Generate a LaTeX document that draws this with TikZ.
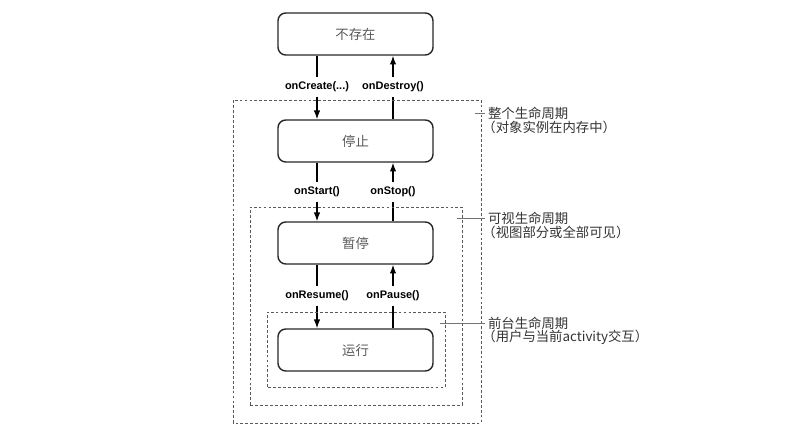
\documentclass[tikz,border=0pt]{standalone}
\usepackage{fontspec}
\setmainfont{Liberation Sans}
\newfontfamily\cjk{Noto Sans CJK SC}
\usetikzlibrary{arrows.meta}
\tikzset{
 state/.style={draw=black!85, line width=1pt, rounded corners=5.5pt, minimum width=3.875cm,
   minimum height=1.05cm, text=black!65, font=\cjk\fontsize{9.5}{11}\selectfont},
 call/.style={font=\bfseries\fontsize{7.8}{9}\selectfont, inner sep=3pt},
 link/.style={line width=0.8pt},
 arr/.style={line width=0.8pt, -{Latex[length=2.2mm,width=1.6mm]}},
 period/.style={draw=black!65, line width=0.5pt, dash pattern=on 2pt off 1.5pt},
 leader/.style={draw=black!55, line width=0.5pt},
 note/.style={anchor=west, inner sep=2pt, text=black!80, font=\cjk\fontsize{9.5}{11}\selectfont}
}
\begin{document}
\begin{tikzpicture}
\useasboundingbox (0,0) rectangle (19.675,10.825);
% states
\node[state] (nonexist) at (8.8875,9.975) {不存在};
\node[state] (stopped) at (8.8875,7.3) {停止};
\node[state] (paused) at (8.8875,4.75) {暂停};
\node[state] (running) at (8.8875,2.075) {运行};
% callbacks
\node[call] (create) at (7.925,8.65) {onCreate(...)};
\node[call] (destroy) at (9.825,8.65) {onDestroy()};
\node[call] (start) at (7.925,6.025) {onStart()};
\node[call] (stop) at (9.825,6.025) {onStop()};
\node[call] (resume) at (7.925,3.425) {onResume()};
\node[call] (pause) at (9.825,3.425) {onPause()};
% going down
\draw[link] (nonexist.south -| create) -- (create);
\draw[arr] (create) -- (stopped.north -| create);
\draw[link] (stopped.south -| start) -- (start);
\draw[arr] (start) -- (paused.north -| start);
\draw[link] (paused.south -| resume) -- (resume);
\draw[arr] (resume) -- (running.north -| resume);
% going up
\draw[link] (stopped.north -| destroy) -- (destroy);
\draw[arr] (destroy) -- (nonexist.south -| destroy);
\draw[link] (paused.north -| stop) -- (stop);
\draw[arr] (stop) -- (stopped.south -| stop);
\draw[link] (running.north -| pause) -- (pause);
\draw[arr] (pause) -- (paused.south -| pause);
% lifetimes
\draw[period] (5.825,0.25) rectangle (12.025,8.325);
\draw[period] (6.25,0.7) rectangle (11.55,5.65);
\draw[period] (6.675,1.15) rectangle (11.125,3.025);
% notes
\node[note] (whole) at (12.125,8.0) {整个生命周期};
\node[note] (wholesub) at ([xshift=-4pt,yshift=-0.35cm]whole.west) {（对象实例在内存中）};
\node[note] (visible) at (12.125,5.375) {可视生命周期};
\node[note] (visiblesub) at ([xshift=-4pt,yshift=-0.35cm]visible.west) {（视图部分或全部可见）};
\node[note] (fore) at (12.125,2.75) {前台生命周期};
\node[note] (foresub) at ([xshift=-4pt,yshift=-0.35cm]fore.west) {（用户与当前activity交互）};
\coordinate (wholeend) at (11.875,8.0);
\coordinate (visibleend) at (11.425,5.375);
\coordinate (foreend) at (11.0,2.75);
\draw[leader] (wholeend) -- (whole.west);
\draw[leader] (visibleend) -- (visible.west);
\draw[leader] (foreend) -- (fore.west);
\end{tikzpicture}
\end{document}
